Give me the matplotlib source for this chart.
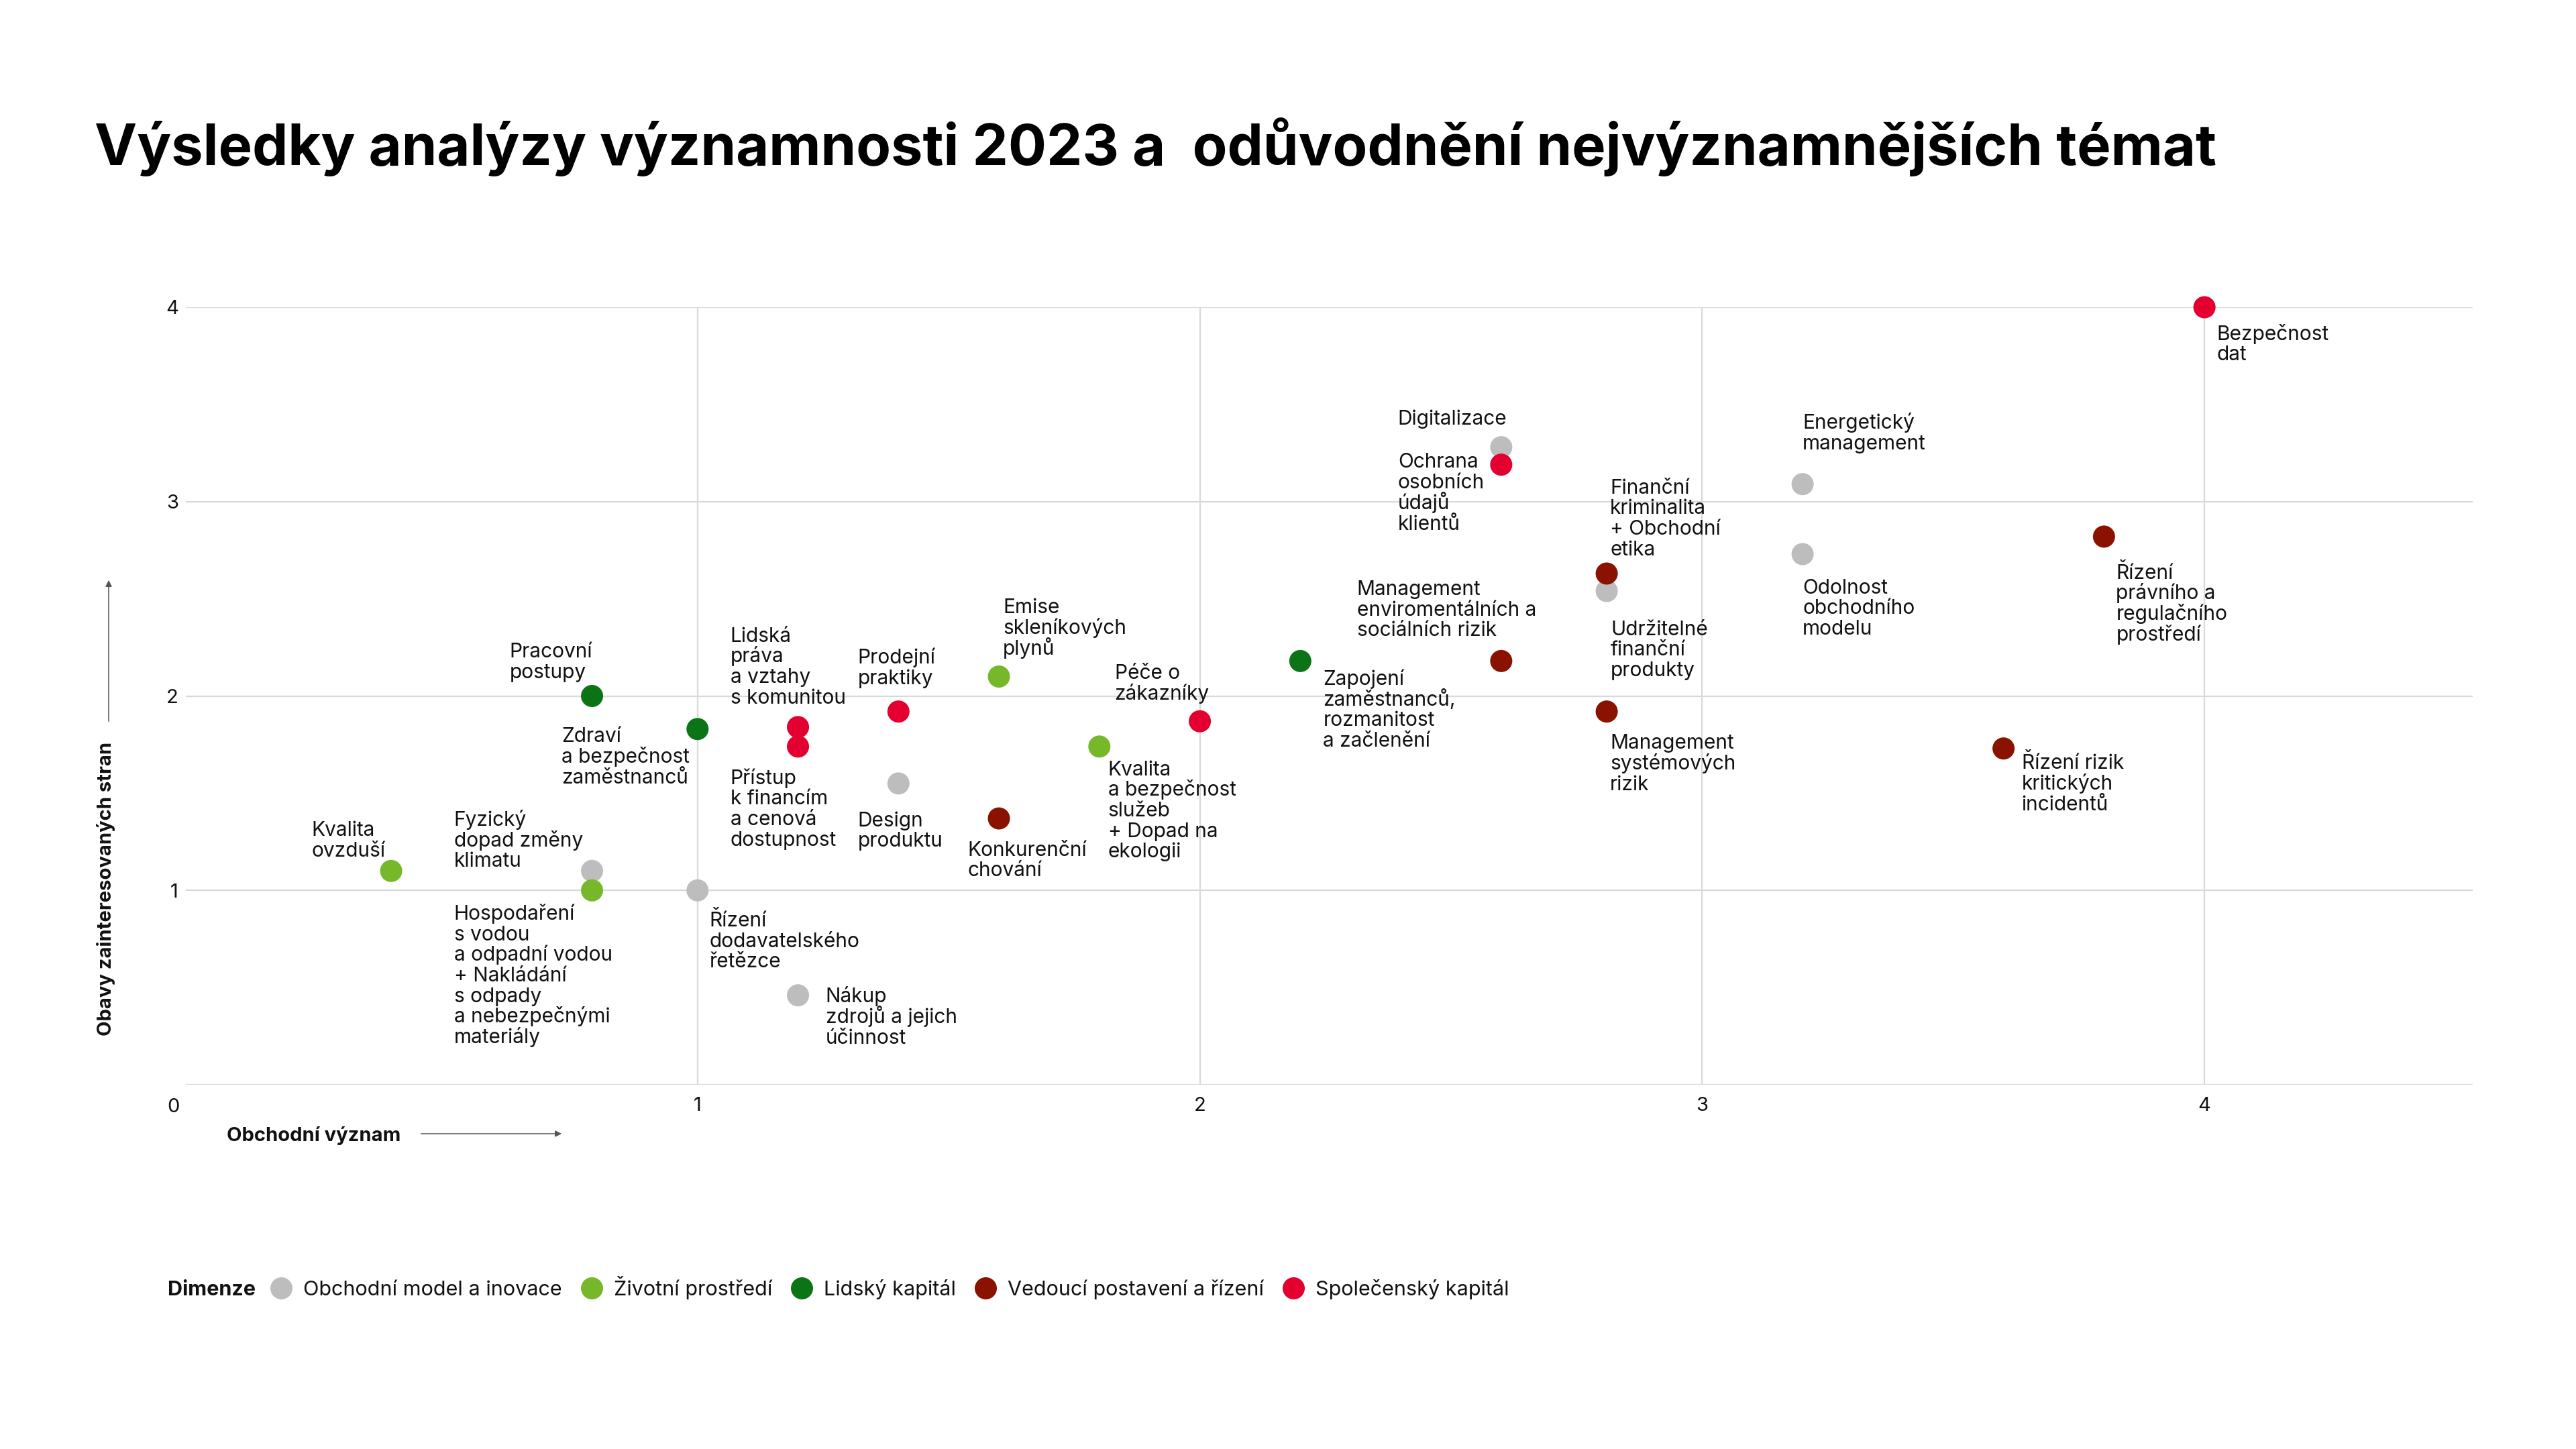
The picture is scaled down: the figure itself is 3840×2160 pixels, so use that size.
import matplotlib
matplotlib.use("Agg")
import matplotlib.pyplot as plt
from matplotlib.lines import Line2D
from matplotlib.patches import FancyArrowPatch

# ---------------- data ----------------
categories = ["Obchodní model a inovace", "Životní prostředí", "Lidský kapitál",
              "Vedoucí postavení a řízení", "Společenský kapitál"]
category_colors = ["#BDBDBD", "#76B82A", "#0B7414", "#8A1200", "#E30030"]

topics = [
    "Kvalita\novzduší",
    "Fyzický\ndopad změny\nklimatu",
    "Hospodaření\ns vodou\na odpadní vodou\n+ Nakládání\ns odpady\na nebezpečnými\nmateriály",
    "Pracovní\npostupy",
    "Zdraví\na bezpečnost\nzaměstnanců",
    "Řízení\ndodavatelského\nřetězce",
    "Lidská\npráva\na vztahy\ns komunitou",
    "Přístup\nk financím\na cenová\ndostupnost",
    "Nákup\nzdrojů a jejich\núčinnost",
    "Prodejní\npraktiky",
    "Design\nproduktu",
    "Emise\nskleníkových\nplynů",
    "Konkurenční\nchování",
    "Kvalita\na bezpečnost\nslužeb\n+ Dopad na\nekologii",
    "Péče o\nzákazníky",
    "Zapojení\nzaměstnanců,\nrozmanitost\na začlenění",
    "Management\nenviromentálních a\nsociálních rizik",
    "Digitalizace",
    "Ochrana\nosobních\núdajů\nklientů",
    "Finanční\nkriminalita\n+ Obchodní\netika",
    "Udržitelné\nfinanční\nprodukty",
    "Management\nsystémových\nrizik",
    "Energetický\nmanagement",
    "Odolnost\nobchodního\nmodelu",
    "Řízení rizik\nkritických\nincidentů",
    "Řízení\nprávního a\nregulačního\nprostředí",
    "Bezpečnost\ndat",
]
topic_category = [1, 0, 1, 2, 2, 0, 4, 4, 0, 4, 0, 1, 3, 1, 4, 2, 3, 0, 4, 3, 0, 3, 0, 0, 3, 3, 4]
business_importance = [0.39, 0.79, 0.79, 0.79, 1.0, 1.0, 1.2, 1.2, 1.2, 1.4, 1.4, 1.6, 1.6, 1.8,
                       2.0, 2.2, 2.6, 2.6, 2.6, 2.81, 2.81, 2.81, 3.2, 3.2, 3.6, 3.8, 4.0]
stakeholder_concern = [1.1, 1.1, 1.0, 2.0, 1.83, 1.0, 1.84, 1.74, 0.46, 1.92, 1.55, 2.1, 1.37,
                       1.74, 1.87, 2.18, 2.18, 3.28, 3.19, 2.63, 2.54, 1.92, 3.09, 2.73, 1.73,
                       2.82, 4.0]
x_ticks = [1, 2, 3, 4]
y_ticks = [1, 2, 3, 4]
x_title = "Obchodní význam"
y_title = "Obavy zainteresovaných stran"
legend_title = "Dimenze"
title = "Výsledky analýzy významnosti 2023 a  odůvodnění nejvýznamnějších témat"

# ---------------- layout (pixels) ----------------
# offset of each label's first-line cap top-left corner from the dot centre (x right, y down)
label_offsets = [(-119, -74), (-206, -89), (-206, 22), (-123, -79), (-203, -2), (18, 32),
                 (-101, -149), (-101, 34), (41, -11), (-61, -93), (-61, 42), (6, -116),
                 (-47, 34), (13, 21), (-127, -85), (34, 14), (-215, -120), (-154, -55),
                 (-154, -17), (5, -141), (6, 44), (5, 34), (0, -104), (0, 37), (27, 9),
                 (18, 41), (18, 27)]

W, H = 3840, 2160
DPI = 100
PX = DPI / 72.0
FS_LABEL = 21.5
FS_TICK = 21
FS_AXT = 21
FS_LEG = 22
FS_TITLE = 61
LS = 30.7
TEXT = "#111111"
GRID = "#D9D9D9"


def cap(fs):
    return 0.727 * fs * PX


plt.rcParams["font.family"] = ["Inter", "DejaVu Sans"]

fig = plt.figure(figsize=(W / DPI, H / DPI), dpi=DPI, facecolor="white")


def fx(px):
    return px / W


def fy(py):
    return 1 - py / H


ax_l, ax_r, ax_t, ax_b = 277, 3686, 458, 1617
ax = fig.add_axes([fx(ax_l), fy(ax_b), (ax_r - ax_l) / W, (ax_b - ax_t) / H])
ax.set_xlim(-0.0187, 4.534)
ax.set_ylim(0, 4)
for s in ax.spines.values():
    s.set_visible(False)
ax.set_xticks(x_ticks)
ax.set_yticks([0] + y_ticks)
ax.set_yticklabels([""] + [str(v) for v in y_ticks])
ax.tick_params(length=0, labelsize=FS_TICK, colors=TEXT)
ax.tick_params(axis="y", pad=8)
ax.tick_params(axis="x", pad=13)
ax.grid(True, color=GRID, linewidth=1.6, zorder=0)
ax.set_axisbelow(True)

# points
for ci, (cat, col) in enumerate(zip(categories, category_colors)):
    xs = [x for x, c in zip(business_importance, topic_category) if c == ci]
    ys = [y for y, c in zip(stakeholder_concern, topic_category) if c == ci]
    ax.scatter(xs, ys, s=(33 * 0.72) ** 2, color=col, edgecolors="none", zorder=3, clip_on=False)

# labels
CAPL = cap(FS_LABEL)
for i, name in enumerate(topics):
    dx, dy = label_offsets[i]
    for j, line in enumerate(name.split("\n")):
        ax.annotate(line, (business_importance[i], stakeholder_concern[i]),
                    xytext=(dx, -(dy + CAPL + j * LS)), textcoords="offset pixels",
                    ha="left", va="baseline", fontsize=FS_LABEL, color=TEXT,
                    annotation_clip=False, zorder=4)

# "0" corner label
fig.text(fx(258), fy(1650), "0", ha="center", va="center", fontsize=FS_TICK, color=TEXT)

# title
fig.text(fx(141), fy(246), title, fontsize=FS_TITLE, fontweight="bold", color="#000000",
         va="baseline")

# axis titles with arrows
xt_y = 1690
fig.text(fx(338), fy(xt_y + cap(FS_AXT) / 2), x_title, fontsize=FS_AXT, fontweight="bold",
         color=TEXT, va="baseline")
fig.add_artist(FancyArrowPatch((fx(625), fy(xt_y)), (fx(840), fy(xt_y)),
                               transform=fig.transFigure, arrowstyle="-|>", mutation_scale=14,
                               color="#555555", lw=1.1))
fig.text(fx(158), fy(1325), y_title, fontsize=FS_AXT, fontweight="bold", color=TEXT,
         rotation=90, ha="center", va="center")
fig.add_artist(FancyArrowPatch((fx(162), fy(1078)), (fx(162), fy(862)),
                               transform=fig.transFigure, arrowstyle="-|>", mutation_scale=14,
                               color="#555555", lw=1.1))

# legend
renderer = fig.canvas.get_renderer()
ly = 1920
xcur = 250
capg = cap(FS_LEG)
t = fig.text(fx(xcur), fy(ly + capg / 2), legend_title, fontsize=FS_LEG, fontweight="bold",
             color=TEXT, va="baseline")
xcur += t.get_window_extent(renderer).width + 38
for cat, col in zip(categories, category_colors):
    fig.add_artist(Line2D([fx(xcur)], [fy(ly)], marker="o", markersize=33 * 0.72,
                          color=col, markeredgewidth=0, linestyle="none",
                          transform=fig.transFigure))
    xcur += 33
    t = fig.text(fx(xcur), fy(ly + capg / 2), cat, fontsize=FS_LEG, color=TEXT, va="baseline")
    xcur += t.get_window_extent(renderer).width + 44

fig.savefig("out.png", dpi=DPI, facecolor="white")
